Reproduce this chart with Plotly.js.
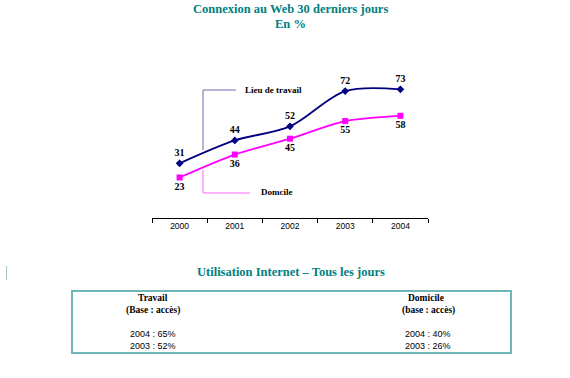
<!DOCTYPE html>
<html><head><meta charset="utf-8">
<script src="https://cdn.plot.ly/plotly-3.0.1.min.js"></script>
<style>html,body{margin:0;padding:0;background:#fff}#c{width:570px;height:378px}</style>
</head><body><div id="c"></div>
<script>
const years = ['2000','2001','2002','2003','2004'];
const travail = [31,44,52,72,73];
const domicile = [23,36,45,55,58];
const seriesNames = ['Lieu de travail','Domcile'];
const tableHeaders = [['Travail','(Base : accès)'],['Domicile','(base : accès)']];
const tableTravail = ['2004 : 65%','2003 : 52%'];
const tableDomicile = ['2004 : 40%','2003 : 26%'];

const L=152, R=428, T=77, B=218;
const px = x => (x-L)/(R-L);
const py = y => (B-y)/(B-T);
const serif = 'Liberation Serif, Times New Roman, serif';
const sans = 'Liberation Sans, Arial, sans-serif';
const teal = '#008080';

const traces = [
 {x:years,y:travail,type:'scatter',mode:'lines+markers+text',
  line:{color:'#000080',width:1.8,shape:'spline',smoothing:0.9},
  marker:{symbol:'diamond',size:6,color:'#000080'},
  text:travail.map(v=>'<b>'+v+'</b>'),textposition:'top center',
  textfont:{family:serif,size:10,color:'#000'},cliponaxis:false,hoverinfo:'none'},
 {x:years,y:domicile,type:'scatter',mode:'lines+markers+text',
  line:{color:'#ff00ff',width:1.8,shape:'spline',smoothing:0.8},
  marker:{symbol:'square',size:6,color:'#ff00ff'},
  text:domicile.map(v=>'<b>'+v+'</b>'),textposition:'bottom center',
  textfont:{family:serif,size:10,color:'#000'},cliponaxis:false,hoverinfo:'none'}
];

const ann = [];
const A = (text,x,y,opt={}) => ann.push(Object.assign({text,x:px(x),y:py(y),xref:'paper',yref:'paper',showarrow:false,xanchor:'center',yanchor:'middle',font:{family:serif,size:10,color:'#000'}},opt));
A('<b>Connexion au Web 30 derniers jours</b>',290,9,{font:{family:serif,size:12.5,color:teal}});
A('<b>En %</b>',290,24,{font:{family:serif,size:12.5,color:teal}});
A('<b>'+seriesNames[0]+'</b>',243,90,{xanchor:'left',font:{family:serif,size:9,color:'#000'}});
A('<b>'+seriesNames[1]+'</b>',259,192,{xanchor:'left',font:{family:serif,size:9,color:'#000'}});
A('<b>Utilisation Internet – Tous les jours</b>',291,272,{font:{family:serif,size:12.5,color:teal}});
A('<b>'+tableHeaders[0][0]+'</b>',153,298,{font:{family:serif,size:9.5,color:'#000'}});
A('<b>'+tableHeaders[0][1]+'</b>',153,310,{font:{family:serif,size:9.5,color:'#000'}});
A('<b>'+tableHeaders[1][0]+'</b>',426,298,{font:{family:serif,size:9.5,color:'#000'}});
A('<b>'+tableHeaders[1][1]+'</b>',428,310,{font:{family:serif,size:9.5,color:'#000'}});
tableTravail.forEach((t,i)=>A(t,153,334+i*12,{font:{family:sans,size:9,color:'#000'}}));
tableDomicile.forEach((t,i)=>A(t,428,334+i*12,{font:{family:sans,size:9,color:'#000'}}));

const S = (x0,y0,x1,y1,color,type='line',w=1) => ({type,xref:'paper',yref:'paper',x0:px(x0),y0:py(y0),x1:px(x1),y1:py(y1),line:{color,width:w}});
const shapes = [
 S(203,90,203,150,'#6b6bb0'), S(203,90,236,90,'#6b6bb0'),
 S(203,170,203,193,'#ff66ff'), S(203,193,250,193,'#ff66ff'),
 S(72,291,511,353,'#6fb6b6','rect',2),
 S(6.5,266,6.5,280,'#9cc8c8')
];

const layout = {
 width:570,height:378,margin:{l:L,r:570-R,t:T,b:378-B},
 paper_bgcolor:'#fff',plot_bgcolor:'rgba(0,0,0,0)',showlegend:false,
 xaxis:{type:'category',range:[-0.5,4.5],tickson:'boundaries',ticks:'outside',ticklen:4,tickcolor:'#000',
   showline:true,linecolor:'#000',linewidth:1,showgrid:false,zeroline:false,fixedrange:true,
   tickfont:{family:sans,size:8.5,color:'#000'}},
 yaxis:{range:[0,80],visible:false,showgrid:false,zeroline:false,fixedrange:true},
 annotations:ann,shapes:shapes
};
Plotly.newPlot('c',traces,layout,{displayModeBar:false,staticPlot:true});
</script></body></html>
